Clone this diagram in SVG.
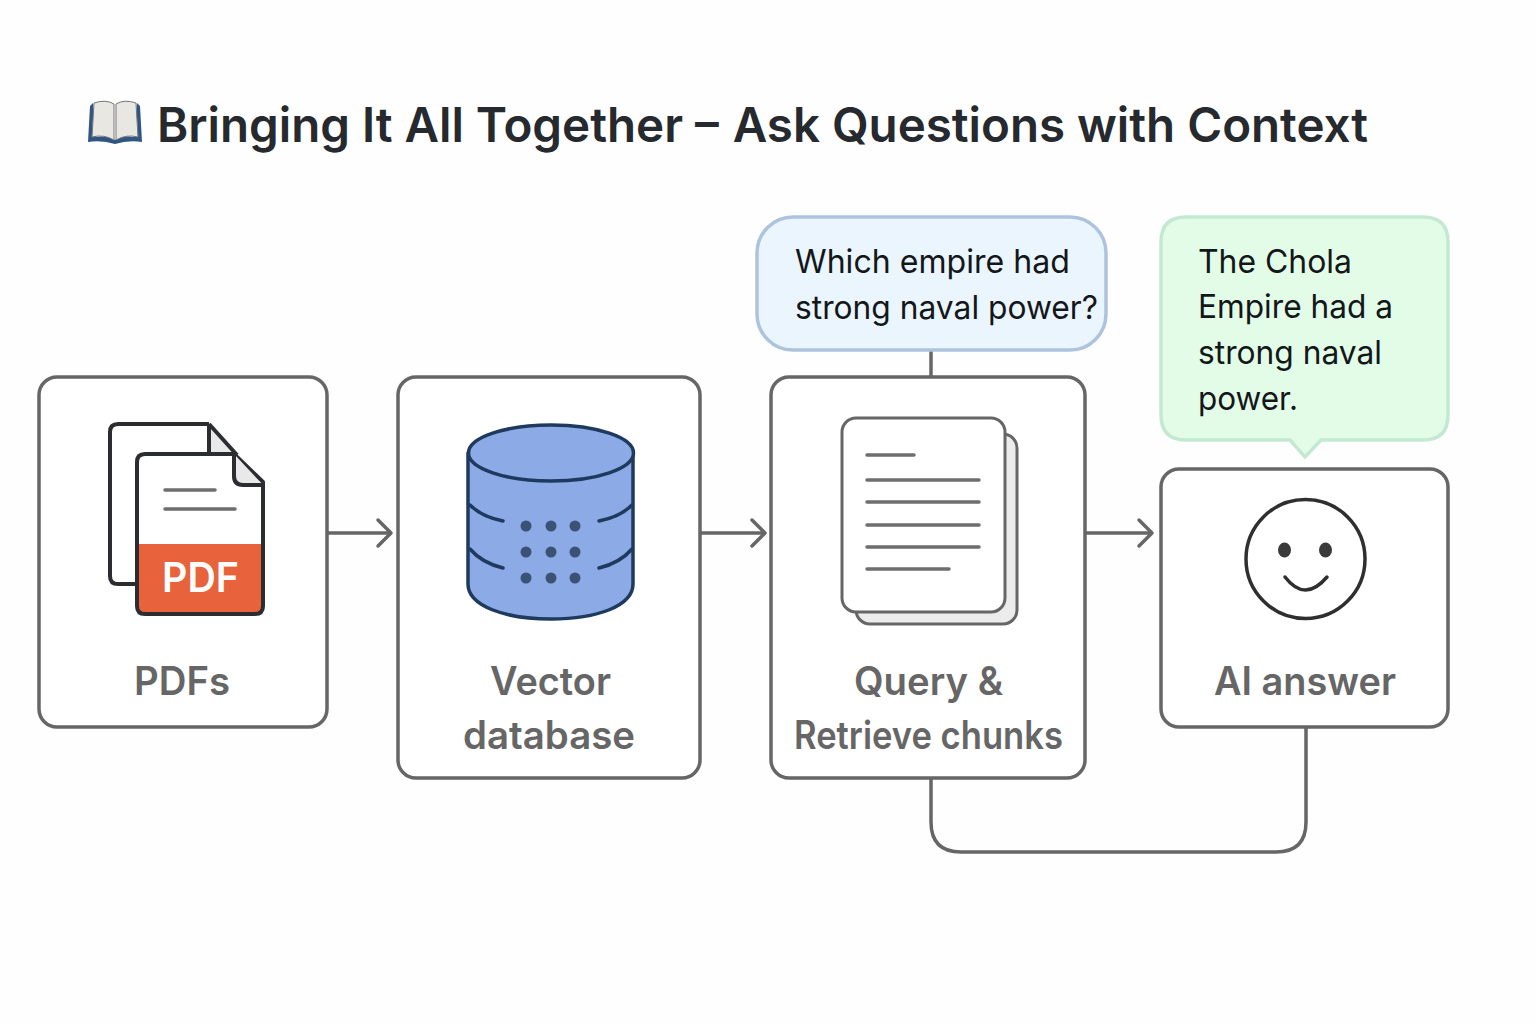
<svg xmlns="http://www.w3.org/2000/svg" width="1536" height="1024" viewBox="0 0 1536 1024">
<style>
.box{fill:#fff;stroke:#666;stroke-width:3.5}
.lbl{font-family:Inter,"Liberation Sans",sans-serif;font-size:39px;font-weight:600;fill:#666;text-anchor:middle}
.say{font-family:Inter,"Liberation Sans",sans-serif;font-size:33px;fill:#14171a}
.conn{fill:none;stroke:#666;stroke-width:3.5}
.head{fill:none;stroke:#666;stroke-width:3.5;stroke-linecap:round;stroke-linejoin:round}
.ln{stroke:#6e6e6e;stroke-width:3.5;stroke-linecap:round}
.dk{fill:none;stroke:#2b2d30;stroke-width:4;stroke-linejoin:round}
.db{fill:none;stroke:#1e3a5f;stroke-width:3.5;stroke-linecap:round}
.dot{fill:#3b5277}
</style>
<rect width="1536" height="1024" fill="#fefefe"/>
<g id="title">
<g id="book-icon">
<path d="M88 142 L90 106 L93 103 L96 137 Q107 135 115 140 Q123 135 134 137 L137 103 L140 106 L142 142 Q128 140 115 144 Q102 140 88 142Z" fill="#2f5683"/>
<path d="M92 137 L94 103 Q106 99 114 104 L114 140 Q104 134 92 137Z" fill="#e9e7e1" stroke="#77777a" stroke-width="1"/>
<path d="M138 137 L136 103 Q124 99 116 104 L116 140 Q126 134 138 137Z" fill="#e9e7e1" stroke="#77777a" stroke-width="1"/>
</g>
<text x="157" y="142" font-family="Inter,'Liberation Sans',sans-serif" font-size="48" font-weight="600" fill="#26292d" textLength="1211" lengthAdjust="spacingAndGlyphs">Bringing It All Together – <tspan dx="2">Ask Questions with Context</tspan></text>
</g>
<g id="connectors">
<path class="conn" d="M931 350V377"/>
<path class="conn" d="M327 533H391"/>
<path class="head" d="M378 520L391 533L378 546"/>
<path class="conn" d="M701 533H765"/>
<path class="head" d="M752 520L765 533L752 546"/>
<path class="conn" d="M1086 533H1152"/>
<path class="head" d="M1139 520L1152 533L1139 546"/>
<path class="conn" d="M931 779V822Q931 852 961 852H1276Q1306 852 1306 822V728"/>
</g>
<g id="pdfs">
<rect class="box" x="39" y="377" width="288" height="350" rx="18"/>
<path class="dk" d="M209 424H118Q110 424 110 432V576Q110 584 118 584H137"/>
<path d="M209 424L237 455H209Z" fill="#e9e9e9"/>
<path class="dk" d="M209 424V452M209 424L237 455"/>
<path d="M137 544H263V606Q263 614 255 614H145Q137 614 137 606Z" fill="#e8623c"/>
<path class="dk" d="M145 454H234L263 482V606Q263 614 255 614H145Q137 614 137 606V462Q137 454 145 454Z"/>
<path d="M235 455L262 484H243Q235 484 235 476Z" fill="#e9e9e9"/>
<path class="dk" d="M234 454V476Q234 485 243 485H263"/>
<path class="ln" d="M165 490H215M165 509H235"/>
<text x="162" y="592" font-family="Inter,'Liberation Sans',sans-serif" font-size="41" font-weight="600" fill="#fff" textLength="77" lengthAdjust="spacingAndGlyphs">PDF</text>
<text class="lbl" x="182" y="695" textLength="96" lengthAdjust="spacingAndGlyphs">PDFs</text>
</g>
<g id="vector-database">
<rect class="box" x="398" y="377" width="302" height="401" rx="18"/>
<path d="M468 453V584C468 606 505 619 551 619S633 606 633 584V453Z" fill="#8caae6"/>
<path class="db" d="M468 453V584C468 606 505 619 551 619S633 606 633 584V453"/>
<ellipse cx="551" cy="453" rx="82.500" ry="28" fill="#8caae6" stroke="#1e3a5f" stroke-width="3.500"/>
<path class="db" d="M470 505Q482 517 503 521M632 505Q620 517 599 521M470 549Q482 563 503 568M632 549Q620 563 599 568"/>
<g class="dot"><circle cx="526" cy="526" r="5.500"/><circle cx="551" cy="526" r="5.500"/><circle cx="575" cy="526" r="5.500"/><circle cx="526" cy="552" r="5.500"/><circle cx="551" cy="552" r="5.500"/><circle cx="575" cy="552" r="5.500"/><circle cx="526" cy="578" r="5.500"/><circle cx="551" cy="578" r="5.500"/><circle cx="575" cy="578" r="5.500"/></g>
<text class="lbl" x="550.500" y="695" textLength="121" lengthAdjust="spacingAndGlyphs">Vector</text>
<text class="lbl" x="549" y="749" textLength="172" lengthAdjust="spacingAndGlyphs">database</text>
</g>
<g id="query-retrieve">
<rect class="box" x="771" y="377" width="314" height="401" rx="18"/>
<rect x="856" y="434" width="161" height="190" rx="14" fill="#ececec" stroke="#666" stroke-width="3"/>
<rect x="842" y="418" width="163" height="194" rx="14" fill="#fff" stroke="#666" stroke-width="3"/>
<path class="ln" d="M867 455H914M867 480H979M867 502H979M867 525H979M867 547H979M867 569H949"/>
<text class="lbl" x="928.500" y="695" textLength="149" lengthAdjust="spacingAndGlyphs">Query &amp;</text>
<text class="lbl" x="928.500" y="749" textLength="269" lengthAdjust="spacingAndGlyphs">Retrieve chunks</text>
</g>
<g id="ai-answer">
<rect class="box" x="1161" y="469" width="287" height="258" rx="18"/>
<circle cx="1305.500" cy="559" r="59.500" fill="#fff" stroke="#2f2f2f" stroke-width="3.500"/>
<ellipse cx="1284.500" cy="550" rx="6.500" ry="7.500" fill="#3a3a3a"/>
<ellipse cx="1325.500" cy="550" rx="6.500" ry="7.500" fill="#3a3a3a"/>
<path d="M1285 577Q1305 603 1327 577" fill="none" stroke="#2f2f2f" stroke-width="3.500" stroke-linecap="round"/>
<text class="lbl" x="1305" y="695" textLength="182" lengthAdjust="spacingAndGlyphs">AI answer</text>
</g>
<g id="question-bubble">
<rect x="757" y="217" width="349" height="133" rx="36" fill="#eaf5fe" stroke="#aec4de" stroke-width="3.500"/>
<text class="say" x="795" y="272.500" textLength="275" lengthAdjust="spacingAndGlyphs">Which empire had</text>
<text class="say" x="795" y="318.500" textLength="303" lengthAdjust="spacingAndGlyphs">strong naval power?</text>
</g>
<g id="answer-bubble">
<path d="M1186 217H1423Q1448 217 1448 242V415Q1448 440 1423 440H1321L1305 457L1290 440H1186Q1161 440 1161 415V242Q1161 217 1186 217Z" fill="#e2fce7" stroke="#c3e9d2" stroke-width="3.500"/>
<text class="say" x="1198" y="272.500" textLength="154" lengthAdjust="spacingAndGlyphs">The Chola</text>
<text class="say" x="1198" y="318" textLength="195" lengthAdjust="spacingAndGlyphs">Empire had a</text>
<text class="say" x="1198" y="364" textLength="184" lengthAdjust="spacingAndGlyphs">strong naval</text>
<text class="say" x="1198" y="410" textLength="100" lengthAdjust="spacingAndGlyphs">power.</text>
</g>
</svg>
